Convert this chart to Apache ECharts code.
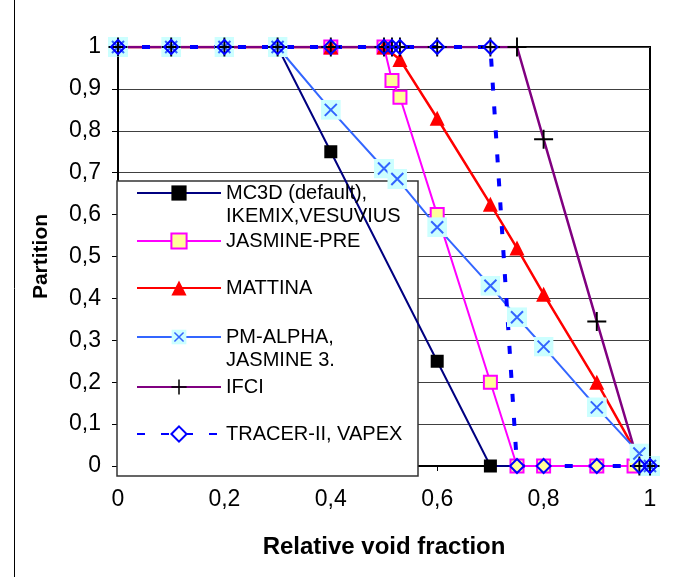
<!DOCTYPE html>
<html>
<head>
<meta charset="utf-8">
<script src="https://cdn.jsdelivr.net/npm/echarts@6/dist/echarts.min.js"></script>
<style>
  html, body { margin: 0; padding: 0; background: #fff; }
  #chart { width: 686px; height: 577px; }
</style>
</head>
<body>
<div id="chart"></div>
<script>
// tick labels (comma decimals as in the original)
const xTickLabels = ['0', '0,2', '0,4', '0,6', '0,8', '1']
const yTickLabels = ['0', '0,1', '0,2', '0,3', '0,4', '0,5', '0,6', '0,7', '0,8', '0,9', '1']

const seriesNames = [
  'MC3D (default),\nIKEMIX,VESUVIUS',
  'JASMINE-PRE',
  'MATTINA',
  'PM-ALPHA,\nJASMINE 3.',
  'IFCI',
  'TRACER-II, VAPEX'
]

// values
const mc3dX = [0, 0.1, 0.2, 0.3, 0.4, 0.6, 0.7, 1]
const mc3dY = [1, 1, 1, 1, 0.75, 0.25, 0, 0]

const jasmineX = [0, 0.1, 0.2, 0.3, 0.4, 0.5, 0.515, 0.53, 0.6, 0.7, 0.75, 0.8, 0.9, 0.97]
const jasmineY = [1, 1, 1, 1, 1, 1, 0.92, 0.88, 0.6, 0.2, 0, 0, 0, 0]

const mattinaX = [0, 0.1, 0.2, 0.3, 0.4, 0.5, 0.53, 0.6, 0.7, 0.75, 0.8, 0.9, 0.975]
const mattinaY = [1, 1, 1, 1, 1, 1, 0.97, 0.83, 0.625, 0.52, 0.41, 0.2, 0.03]

const pmX = [0, 0.1, 0.2, 0.3, 0.4, 0.5, 0.525, 0.6, 0.7, 0.75, 0.8, 0.9, 0.98, 1]
const pmY = [1, 1, 1, 1, 0.85, 0.71, 0.685, 0.57, 0.43, 0.355, 0.285, 0.14, 0.03, 0]

const ifciX = [0, 0.1, 0.2, 0.3, 0.4, 0.5, 0.515, 0.53, 0.6, 0.7, 0.75, 0.8, 0.9, 0.98, 1]
const ifciY = [1, 1, 1, 1, 1, 1, 1, 1, 1, 1, 1, 0.78, 0.345, 0, 0]

const tracerX = [0, 0.1, 0.2, 0.3, 0.4, 0.5, 0.515, 0.53, 0.6, 0.7, 0.75, 0.8, 0.9, 0.98, 1]
const tracerY = [1, 1, 1, 1, 1, 1, 1, 1, 1, 1, 0, 0, 0, 0, 0]

const zip = (xs, ys) => xs.map((x, i) => [x, ys[i]])

const font = '"Liberation Sans", Arial, sans-serif'

// X mark on a light cyan square
const crossSvg = 'image://data:image/svg+xml;utf8,' + encodeURIComponent(
  '<svg xmlns="http://www.w3.org/2000/svg" width="20" height="20" viewBox="0 0 20 20">' +
  '<rect width="20" height="20" fill="#CCFFFF"/>' +
  '<path d="M4 4L16 16M16 4L4 16" stroke="#3366FF" stroke-width="2" fill="none"/></svg>'
)
const plusPath = 'path://M0,9h20v2h-20z M9,0h2v20h-2z'

const chart = echarts.init(document.getElementById('chart'))

// one legend per entry so each row can sit where it does in the original
const legendTops = [158.5, 229.5, 276.5, 302.5, 375.5, 422.5]
const legends = seriesNames.map((name, i) => ({
  data: [name],
  left: 136,
  top: legendTops[i],
  padding: 0,
  orient: 'vertical',
  itemWidth: 84,
  itemHeight: 19,
  selectedMode: false,
  // blank first line keeps the marker level with the first text line
  formatter: n => (n.indexOf('\n') >= 0 ? ' \n' + n : n),
  textStyle: {
    fontFamily: font,
    fontSize: 20,
    color: '#000',
    lineHeight: 23
  }
}))

const option = {
  animation: false,
  backgroundColor: '#fff',
  textStyle: { fontFamily: font },
  grid: {
    left: 118,
    right: 36,
    top: 47,
    bottom: 111,
    show: true,
    borderColor: '#000',
    borderWidth: 2
  },
  graphic: [
    {
      type: 'rect',
      z: 3,
      shape: { x: 117, y: 181, width: 301, height: 295 },
      style: { fill: '#fff', stroke: '#333', lineWidth: 1.5 }
    },
    {
      type: 'line',
      shape: { x1: 14.5, y1: 0, x2: 14.5, y2: 577 },
      style: { stroke: '#000', lineWidth: 1 }
    }
  ],
  legend: legends,
  xAxis: {
    type: 'value',
    min: 0,
    max: 1,
    interval: 0.2,
    name: 'Relative void fraction',
    nameLocation: 'middle',
    nameGap: 69,
    nameTextStyle: { fontFamily: font, fontSize: 24, fontWeight: 'bold', color: '#000' },
    axisLine: { lineStyle: { color: '#000', width: 2 } },
    axisTick: { show: true, length: 5, lineStyle: { color: '#000' } },
    axisLabel: {
      fontFamily: font,
      fontSize: 23,
      color: '#000',
      margin: 22,
      formatter: v => xTickLabels[Math.round(v * 5)]
    },
    splitLine: { show: false }
  },
  yAxis: {
    type: 'value',
    min: 0,
    max: 1,
    interval: 0.1,
    name: 'Partition',
    nameLocation: 'middle',
    nameGap: 66,
    nameTextStyle: { fontFamily: font, fontSize: 21, fontWeight: 'bold', color: '#000' },
    axisLine: { show: true, lineStyle: { color: '#000', width: 2 } },
    axisTick: { show: true, length: 6, lineStyle: { color: '#000' } },
    axisLabel: {
      fontFamily: font,
      fontSize: 23,
      color: '#000',
      margin: 17,
      formatter: v => yTickLabels[Math.round(v * 10)]
    },
    splitLine: { show: true, lineStyle: { color: '#404040', width: 1 } }
  },
  series: [
    {
      name: seriesNames[0],
      type: 'line',
      data: zip(mc3dX, mc3dY),
      symbol: 'rect',
      symbolSize: 13,
      lineStyle: { color: '#000080', width: 2 },
      itemStyle: { color: '#000' }
    },
    {
      name: seriesNames[1],
      type: 'line',
      data: zip(jasmineX, jasmineY),
      symbol: 'rect',
      symbolSize: 13,
      lineStyle: { color: '#FF00FF', width: 2 },
      itemStyle: { color: '#FFFF99', borderColor: '#FF00FF', borderWidth: 2 }
    },
    {
      name: seriesNames[2],
      type: 'line',
      data: zip(mattinaX, mattinaY),
      symbol: 'triangle',
      symbolSize: 15,
      lineStyle: { color: '#FF0000', width: 2.5 },
      itemStyle: { color: '#FF0000' }
    },
    {
      name: seriesNames[3],
      type: 'line',
      data: zip(pmX, pmY),
      symbol: crossSvg,
      symbolSize: 20,
      lineStyle: { color: '#3366FF', width: 2 },
      itemStyle: { color: '#3366FF' }
    },
    {
      name: seriesNames[4],
      type: 'line',
      data: zip(ifciX, ifciY),
      symbol: plusPath,
      symbolSize: 19,
      lineStyle: { color: '#800080', width: 2.5 },
      itemStyle: { color: '#000' }
    },
    {
      name: seriesNames[5],
      type: 'line',
      data: zip(tracerX, tracerY),
      symbol: 'diamond',
      symbolSize: 14,
      lineStyle: { color: '#0000FF', width: 4, type: [8, 16] },
      itemStyle: { color: 'rgba(0,0,0,0)', borderColor: '#0000FF', borderWidth: 2 }
    }
  ]
}

chart.setOption(option)
</script>
</body>
</html>
